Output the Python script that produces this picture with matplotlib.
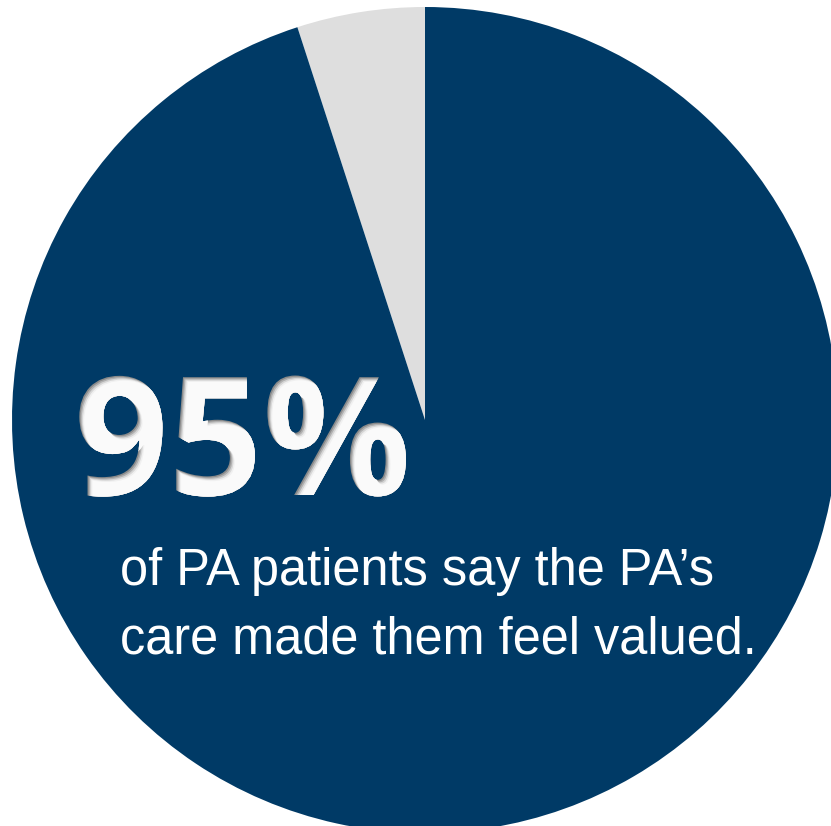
import matplotlib.pyplot as plt
import matplotlib.colors as mcolors
from matplotlib import patheffects
from matplotlib.transforms import Affine2D, TransformedPath

# data
labels = ["Not valued", "Felt valued"]
shares = [5, 95]
colors = ["#dedede", "#003a66"]
big_label = "95%"
caption = ["of PA patients say the PA\u2019s", "care made them feel valued."]


class InnerShadow(patheffects.AbstractPathEffect):
    """Fill the glyph grey, then lighter copies shifted down-right, clipped to the glyph."""

    def __init__(self, base, layers):
        super().__init__()
        self.base = mcolors.to_rgba(base)
        self.layers = [(off, mcolors.to_rgba(c)) for off, c in layers]

    def draw_path(self, renderer, gc, tpath, affine, rgbFace=None):
        renderer.draw_path(gc, tpath, affine, self.base)
        clip = TransformedPath(tpath, affine)
        for off, col in self.layers:
            gc0 = renderer.new_gc()
            gc0.copy_properties(gc)
            gc0.set_clip_path(clip)
            renderer.draw_path(gc0, tpath, affine + Affine2D().translate(off, -off), col)
            gc0.restore()


W, H = 831, 826
fig = plt.figure(figsize=(W / 100, H / 100), dpi=100)
ax = fig.add_axes([0, 0, 1, 1])

ax.pie(shares, colors=colors, startangle=90, counterclock=True,
       center=(425, H - 420), radius=413, wedgeprops=dict(linewidth=0))
ax.set_xlim(0, W)
ax.set_ylim(0, H)
ax.set_aspect("equal")
ax.axis("off")

ax.text(74, H - 495, big_label, fontsize=165 * 72 / 100, family="Open Sans",
        weight="bold", color="white", va="baseline", ha="left", zorder=5,
        path_effects=[InnerShadow("#8a8a8a", [(1.2, "#b0b0b0"), (2.4, "#d6d6d6"),
                                              (3.6, "#f0f0f0"), (4.8, "#fafafa")])])

for i, line in enumerate(caption):
    ax.text(120, H - 585 - i * 68, line, fontsize=36.4, color="white",
            family="Liberation Sans", ha="left", va="baseline", zorder=7)

fig.savefig("out.png", dpi=100)
